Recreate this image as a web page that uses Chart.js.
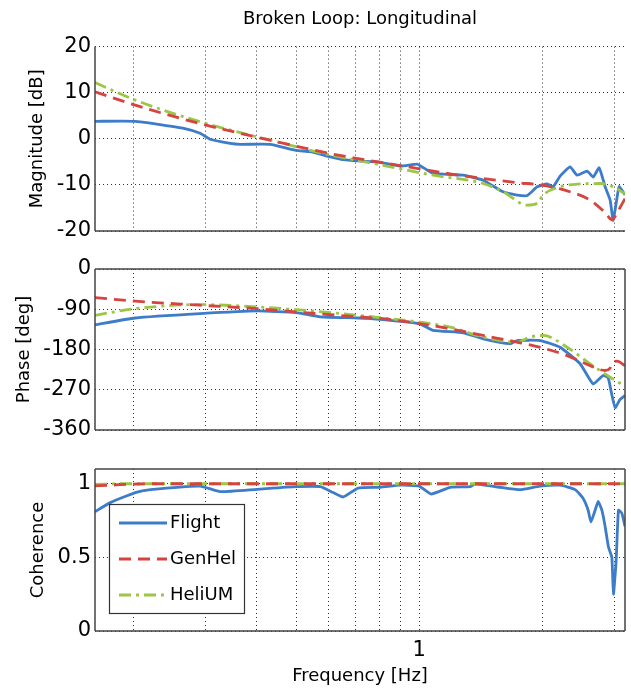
<!DOCTYPE html>
<html>
<head>
<meta charset="utf-8">
<title>Broken Loop: Longitudinal</title>
<script src="https://cdn.jsdelivr.net/npm/chart.js@4.4.0/dist/chart.umd.min.js"></script>
<style>
    body { margin: 0; background: #fff; }
    #contenedor { position: relative; width: 631px; height: 692px; }
    canvas { position: absolute; left: 0; }
</style>
</head>
<body>
<div id="contenedor">
    <canvas id="grafico-mag" width="631" height="250" style="top:0px"></canvas>
    <canvas id="grafico-fase" width="631" height="200" style="top:250px"></canvas>
    <canvas id="grafico-coh" width="631" height="242" style="top:450px"></canvas>
</div>
<script>
// Datos (frecuencia en Hz)
var TICKS_FREC = [0.2, 0.3, 0.4, 0.5, 0.6, 0.7, 0.8, 0.9, 1, 2, 3];
var TICKS_MAG = [-20, -10, 0, 10, 20];
var TICKS_FASE = [-360, -270, -180, -90, 0];
var TICKS_COH = [0, 0.5, 1];

// Magnitud [dB]
var FREC_MAG_FLIGHT = [0.161, 0.202, 0.228, 0.264, 0.291, 0.308, 0.345, 0.365, 0.432, 0.500, 0.541, 0.606, 0.652, 0.709, 0.803, 0.899, 0.989, 1.017, 1.082, 1.281, 1.434, 1.605, 1.737, 1.838, 1.945, 2.058, 2.128, 2.213, 2.341, 2.436, 2.577, 2.666, 2.758, 2.852, 2.934, 2.984, 3.052, 3.087, 3.190];
var MAG_FLIGHT = [3.8, 3.8, 3.2, 2.3, 1.2, -0.1, -1.0, -1.2, -1.2, -2.5, -2.8, -3.9, -4.5, -4.8, -5.1, -5.9, -5.5, -6.1, -7.5, -7.9, -9.0, -11.5, -12.2, -12.3, -10.4, -9.8, -10.4, -8.1, -6.1, -7.9, -7.0, -8.3, -6.3, -10.4, -13.3, -17.7, -12.6, -10.3, -12.2];
var FREC_MAG_GENHEL = [0.161, 0.202, 0.291, 0.432, 0.606, 0.709, 0.899, 1.191, 1.434, 1.737, 2.012, 2.302, 2.621, 2.852, 2.967, 3.052, 3.190];
var MAG_GENHEL = [10.2, 7.3, 3.3, -0.3, -3.2, -4.3, -5.8, -7.6, -8.6, -9.5, -10.1, -11.3, -13.3, -16.0, -17.6, -16.0, -13.0];
var FREC_MAG_HELIUM = [0.161, 0.202, 0.291, 0.432, 0.606, 0.709, 0.899, 1.082, 1.434, 1.605, 1.838, 1.945, 2.012, 2.213, 2.477, 2.773, 3.0, 3.190];
var MAG_HELIUM = [12.2, 8.4, 3.7, -0.3, -3.5, -4.7, -6.5, -7.9, -9.7, -11.5, -14.4, -14.0, -12.2, -10.4, -9.8, -9.7, -10.5, -12.0];

// Fase [deg]
var FREC_FASE_FLIGHT = [0.161, 0.202, 0.291, 0.401, 0.500, 0.573, 0.709, 0.803, 1.0, 1.082, 1.281, 1.434, 1.670, 1.737, 1.978, 2.213, 2.477, 2.666, 2.820, 2.900, 2.960, 3.018, 3.100, 3.190];
var FASE_FLIGHT = [-124.6, -109.6, -99.9, -93.8, -97.6, -107, -109.6, -112.5, -122, -137, -142.6, -156, -167, -160, -160, -175, -212, -257, -238, -243, -280, -310, -292, -283];
var FREC_FASE_GENHEL = [0.161, 0.202, 0.291, 0.401, 0.500, 0.709, 0.803, 1.0, 1.191, 1.434, 1.737, 2.012, 2.302, 2.621, 2.852, 2.930, 2.980, 3.050, 3.190];
var FASE_GENHEL = [-63.8, -72, -81, -88.6, -96, -107, -110.6, -122, -133.6, -148.6, -163.6, -177, -193.6, -216, -227, -222, -208, -206, -216];
var FREC_FASE_HELIUM = [0.161, 0.202, 0.291, 0.401, 0.500, 0.709, 0.803, 1.0, 1.191, 1.434, 1.737, 1.869, 2.012, 2.302, 2.621, 2.934, 3.190];
var FASE_HELIUM = [-103.6, -88.6, -79.6, -84.8, -90.8, -103.6, -109, -118.6, -130, -152, -163.6, -152, -148.6, -175, -212, -242, -262];

// Coherencia
var FREC_COH_FLIGHT = [0.161, 0.175, 0.202, 0.220, 0.291, 0.326, 0.401, 0.500, 0.573, 0.616, 0.652, 0.709, 0.803, 0.899, 1.0, 1.070, 1.191, 1.333, 1.371, 1.578, 1.767, 1.978, 2.213, 2.409, 2.520, 2.592, 2.632, 2.696, 2.742, 2.800, 2.852, 2.906, 2.962, 2.989, 3.035, 3.075, 3.134, 3.190];
var COH_FLIGHT = [0.81, 0.87, 0.94, 0.96, 0.984, 0.946, 0.962, 0.98, 0.98, 0.94, 0.91, 0.97, 0.976, 0.99, 0.984, 0.93, 0.976, 0.98, 1.0, 0.976, 0.96, 0.984, 0.99, 0.96, 0.90, 0.82, 0.74, 0.82, 0.88, 0.82, 0.71, 0.57, 0.50, 0.25, 0.48, 0.82, 0.80, 0.71];
var FREC_COH_GENHEL = [0.161, 0.175, 0.220, 3.190];
var COH_GENHEL = [0.985, 0.99, 1.0, 1.0];
var FREC_COH_HELIUM = [0.161, 0.190, 3.190];
var COH_HELIUM = [0.995, 1.0, 1.0];

var FUENTE = "'DejaVu Sans', sans-serif";
var AZUL = '#3d7cc9';
var ROJO = '#d6443f';
var VERDE = '#9cc645';

Chart.defaults.font.family = FUENTE;
Chart.defaults.font.size = 18;
Chart.defaults.color = '#000';

function puntos(frecs, valores) {
    var arr = [];
    for (var i = 0; i < frecs.length; i++) {
        arr.push({x: frecs[i], y: valores[i]});
    }
    return arr;
}

function series(fFlight, vFlight, fGen, vGen, fHel, vHel) {
    return [
        {label: 'Flight', data: puntos(fFlight, vFlight), borderColor: AZUL, borderWidth: 2.8, tension: 0.15, order: 3},
        {label: 'GenHel', data: puntos(fGen, vGen), borderColor: ROJO, borderWidth: 2.8, borderDash: [12, 7], cubicInterpolationMode: 'monotone', order: 1},
        {label: 'HeliUM', data: puntos(fHel, vHel), borderColor: VERDE, borderWidth: 2.8, borderDash: [12, 5, 3, 5], cubicInterpolationMode: 'monotone', order: 2}
    ];
}

function ejeX(inferior) {
    return {
        type: 'logarithmic',
        min: 0.161,
        max: 3.19,
        afterBuildTicks: function (s) {
            s.ticks = TICKS_FREC.map(function (v) { return {value: v}; });
        },
        afterFit: function (s) {
            s.height = inferior ? 61 : 0;
        },
        ticks: {
            display: inferior,
            autoSkip: false,
            maxRotation: 0,
            padding: 7,
            font: {size: 21},
            callback: function (v) { return v === 1 ? '1' : ''; }
        },
        title: {
            display: inferior,
            text: 'Frequency [Hz]',
            padding: {top: 0, bottom: 5}
        },
        grid: {color: 'rgba(0,0,0,0.8)', lineWidth: 1, drawTicks: false},
        border: {display: false, dash: [1, 3]}
    };
}

function ejeY(min, max, ticks, titulo, sep) {
    return {
        min: min,
        max: max,
        afterBuildTicks: function (s) {
            s.ticks = ticks.map(function (v) { return {value: v}; });
        },
        afterFit: function (s) {
            s.width = 95;
        },
        ticks: {
            padding: 4,
            font: {size: 21},
            callback: function (v) { return String(v); }
        },
        title: {display: true, text: titulo, padding: {top: sep, bottom: 0}},
        grid: {color: 'rgba(0,0,0,0.8)', lineWidth: 1, drawTicks: false},
        border: {display: false, dash: [1, 3]}
    };
}

// marco solido de los ejes
function marco(lados) {
    return {
        id: 'marco',
        afterDatasetsDraw: function (chart) {
            var a = chart.chartArea;
            var ctx = chart.ctx;
            ctx.save();
            ctx.strokeStyle = '#444';
            ctx.lineWidth = 1.5;
            ctx.beginPath();
            if (lados.indexOf('l') >= 0) { ctx.moveTo(a.left, a.top); ctx.lineTo(a.left, a.bottom); }
            if (lados.indexOf('b') >= 0) { ctx.moveTo(a.left, a.bottom); ctx.lineTo(a.right, a.bottom); }
            if (lados.indexOf('t') >= 0) { ctx.moveTo(a.left, a.top); ctx.lineTo(a.right, a.top); }
            if (lados.indexOf('r') >= 0) { ctx.moveTo(a.right, a.top); ctx.lineTo(a.right, a.bottom); }
            ctx.stroke();
            ctx.restore();
        }
    };
}

var leyenda = {
    id: 'leyenda',
    afterDraw: function (chart) {
        var ctx = chart.ctx;
        var x0 = 109, y0 = 54, w = 135, h = 109;
        ctx.save();
        ctx.fillStyle = '#fff';
        ctx.fillRect(x0, y0, w, h);
        ctx.strokeStyle = '#333';
        ctx.lineWidth = 1.2;
        ctx.strokeRect(x0 + 0.5, y0 + 0.5, w, h);
        chart.data.datasets.forEach(function (ds, i) {
            var y = y0 + 19 + i * 36;
            ctx.setLineDash(ds.borderDash || []);
            ctx.strokeStyle = ds.borderColor;
            ctx.lineWidth = ds.borderWidth;
            ctx.beginPath();
            ctx.moveTo(x0 + 10, y);
            ctx.lineTo(x0 + 58, y);
            ctx.stroke();
            ctx.setLineDash([]);
            ctx.fillStyle = '#000';
            ctx.font = '18px ' + FUENTE;
            ctx.textBaseline = 'middle';
            ctx.fillText(ds.label, x0 + 61, y);
        });
        ctx.restore();
    }
};

function opciones(ejeYcfg, inferior, padding, titulo) {
    return {
        responsive: false,
        animation: false,
        devicePixelRatio: 1,
        layout: {padding: padding},
        elements: {point: {radius: 0}},
        plugins: {
            legend: {display: false},
            tooltip: {enabled: false},
            title: titulo
        },
        scales: {
            x: ejeX(inferior),
            y: ejeYcfg
        }
    };
}

new Chart(document.getElementById('grafico-mag'), {
    type: 'line',
    data: {datasets: series(FREC_MAG_FLIGHT, MAG_FLIGHT, FREC_MAG_GENHEL, MAG_GENHEL, FREC_MAG_HELIUM, MAG_HELIUM)},
    options: opciones(ejeY(-20, 20, TICKS_MAG, 'Magnitude [dB]', 27), false,
        {top: 0, bottom: 19, left: 0, right: 6},
        {display: true, text: 'Broken Loop: Longitudinal', fullSize: false, font: {size: 18, weight: 'normal'}, padding: {top: 9, bottom: 16}}),
    plugins: [marco('lb')]
});

new Chart(document.getElementById('grafico-fase'), {
    type: 'line',
    data: {datasets: series(FREC_FASE_FLIGHT, FASE_FLIGHT, FREC_FASE_GENHEL, FASE_GENHEL, FREC_FASE_HELIUM, FASE_HELIUM)},
    options: opciones(ejeY(-360, 0, TICKS_FASE, 'Phase [deg]', 14), false,
        {top: 19, bottom: 20, left: 0, right: 6},
        {display: false}),
    plugins: [marco('lbtr')]
});

new Chart(document.getElementById('grafico-coh'), {
    type: 'line',
    data: {datasets: series(FREC_COH_FLIGHT, COH_FLIGHT, FREC_COH_GENHEL, COH_GENHEL, FREC_COH_HELIUM, COH_HELIUM)},
    options: opciones(ejeY(0, 1.1, TICKS_COH, 'Coherence', 28), true,
        {top: 19, bottom: 0, left: 0, right: 6},
        {display: false}),
    plugins: [marco('lbtr'), leyenda]
});
</script>
</body>
</html>
